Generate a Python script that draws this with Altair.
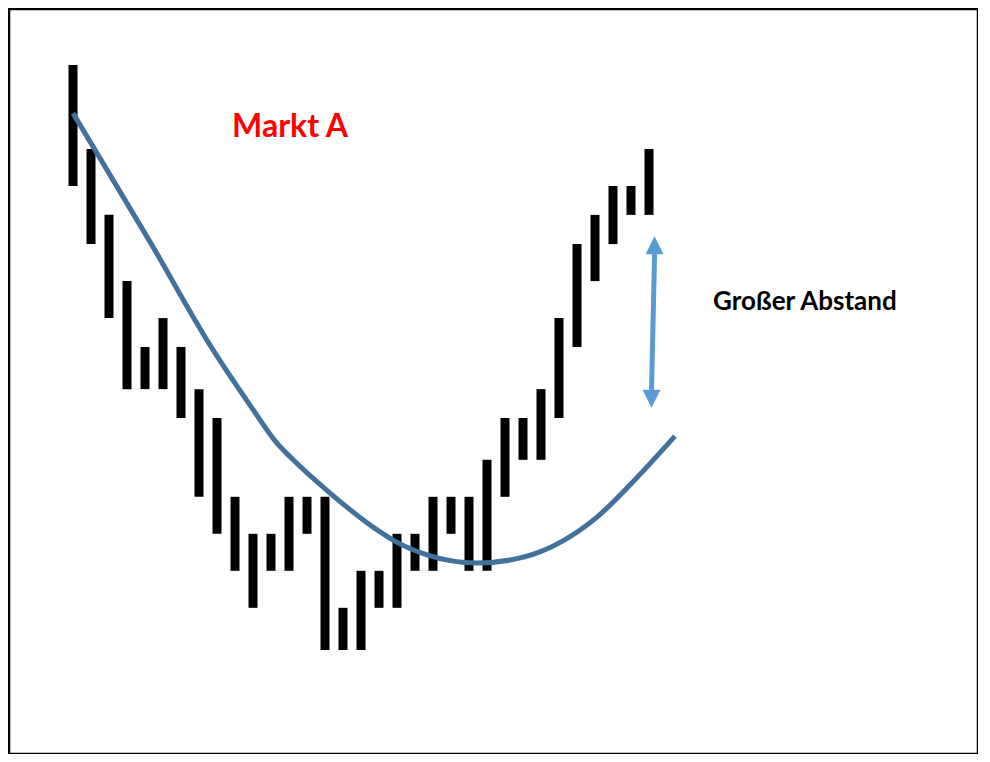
import altair as alt
import pandas as pd

# Bar index (time) and high/low levels of each bar (price units)
bar_index = list(range(33))
bar_high = [15.81, 13.54, 11.76, 9.97, 8.19, 8.97, 8.19, 7.05, 6.27, 4.14, 3.14,
            3.14, 4.14, 4.14, 4.14, 1.14, 2.14, 2.14, 3.14, 3.14, 4.14, 4.14,
            4.14, 5.14, 6.27, 6.27, 7.05, 8.97, 10.97, 11.76, 12.54, 12.54, 13.54]
bar_low = [12.54, 10.97, 8.97, 7.05, 7.05, 7.05, 6.27, 4.14, 3.14, 2.14, 1.14,
           2.14, 2.14, 3.14, 0.0, 0.0, 0.0, 1.14, 1.14, 2.14, 2.14, 3.14,
           2.14, 2.14, 4.14, 5.14, 5.14, 6.27, 8.19, 9.97, 10.97, 11.76, 11.76]

# Smoothed moving-average curve
curve_x = [0.0, 4.28, 7.78, 9.83, 11.33, 12.06, 14.28, 17.06, 17.78, 19.67,
           22.44, 24.28, 25.94, 27.22, 29.11, 30.94, 33.44]
curve_y = [14.51, 11.03, 8.11, 6.62, 5.59, 5.22, 4.24, 3.19, 2.97, 2.57,
           2.35, 2.43, 2.65, 2.95, 3.59, 4.46, 5.78]

# Annotations
title_text = ["Markt A"]
note_text = ["Großer Abstand"]
arrow_x = [32.31, 32.14]
arrow_y = [10.70, 7.03]
arrow_head_x = [32.31, 32.14]
arrow_head_y = [10.94, 6.79]
arrow_head_shape = ["M0,-1L1,1L-1,1Z", "M0,1L1,-1L-1,-1Z"]

bars = pd.DataFrame({"i": bar_index, "high": bar_high, "low": bar_low})
curve = pd.DataFrame({"i": curve_x, "v": curve_y})

xs = alt.Scale(domain=[-3.556, 50.278], nice=False, zero=False)
ys = alt.Scale(domain=[-2.811, 17.324], nice=False, zero=False)

bar_layer = alt.Chart(bars).mark_rule(color="black", strokeWidth=9, strokeCap="butt").encode(
    x=alt.X("i:Q", scale=xs, axis=None),
    y=alt.Y("high:Q", scale=ys, axis=None),
    y2="low:Q",
)

curve_layer = alt.Chart(curve).mark_line(color="#41719C", strokeWidth=5, interpolate="monotone").encode(
    x=alt.X("i:Q", scale=xs, axis=None),
    y=alt.Y("v:Q", scale=ys, axis=None),
)

shaft = alt.Chart(pd.DataFrame({"x": [arrow_x[0]], "y": [arrow_y[0]], "x2": [arrow_x[1]], "y2": [arrow_y[1]]})).mark_rule(
    color="#5B9BD5", strokeWidth=5, strokeCap="butt"
).encode(
    x=alt.X("x:Q", scale=xs, axis=None), y=alt.Y("y:Q", scale=ys, axis=None), x2="x2:Q", y2="y2:Q"
)

heads = []
for hx, hy, shp in zip(arrow_head_x, arrow_head_y, arrow_head_shape):
    heads.append(
        alt.Chart(pd.DataFrame({"x": [hx], "y": [hy]})).mark_point(
            shape=shp, size=324, filled=True, color="#5B9BD5", opacity=1, strokeWidth=0
        ).encode(x=alt.X("x:Q", scale=xs, axis=None), y=alt.Y("y:Q", scale=ys, axis=None))
    )

title_layer = alt.Chart(pd.DataFrame({"x": [12.06], "y": [13.865], "t": title_text})).mark_text(
    font="Lato", fontWeight="bold", fontSize=32, color="#FF0000", align="center", baseline="alphabetic"
).encode(x=alt.X("x:Q", scale=xs, axis=None), y=alt.Y("y:Q", scale=ys, axis=None), text="t:N")

note_layer = alt.Chart(pd.DataFrame({"x": [35.56], "y": [9.19], "t": note_text})).mark_text(
    font="Lato", fontWeight="bold", fontSize=26, color="black", align="left", baseline="alphabetic"
).encode(x=alt.X("x:Q", scale=xs, axis=None), y=alt.Y("y:Q", scale=ys, axis=None), text="t:N")

chart = alt.layer(bar_layer, curve_layer, shaft, *heads, title_layer, note_layer).properties(
    width=969, height=745, autosize=alt.AutoSizeParams(type="none"),
    padding={"left": 1, "top": 1, "right": 0, "bottom": 0},
    background="white",
).configure_view(stroke="black", strokeWidth=2.5)

chart.save("out.html", embed_options={"renderer": "svg", "actions": False})
